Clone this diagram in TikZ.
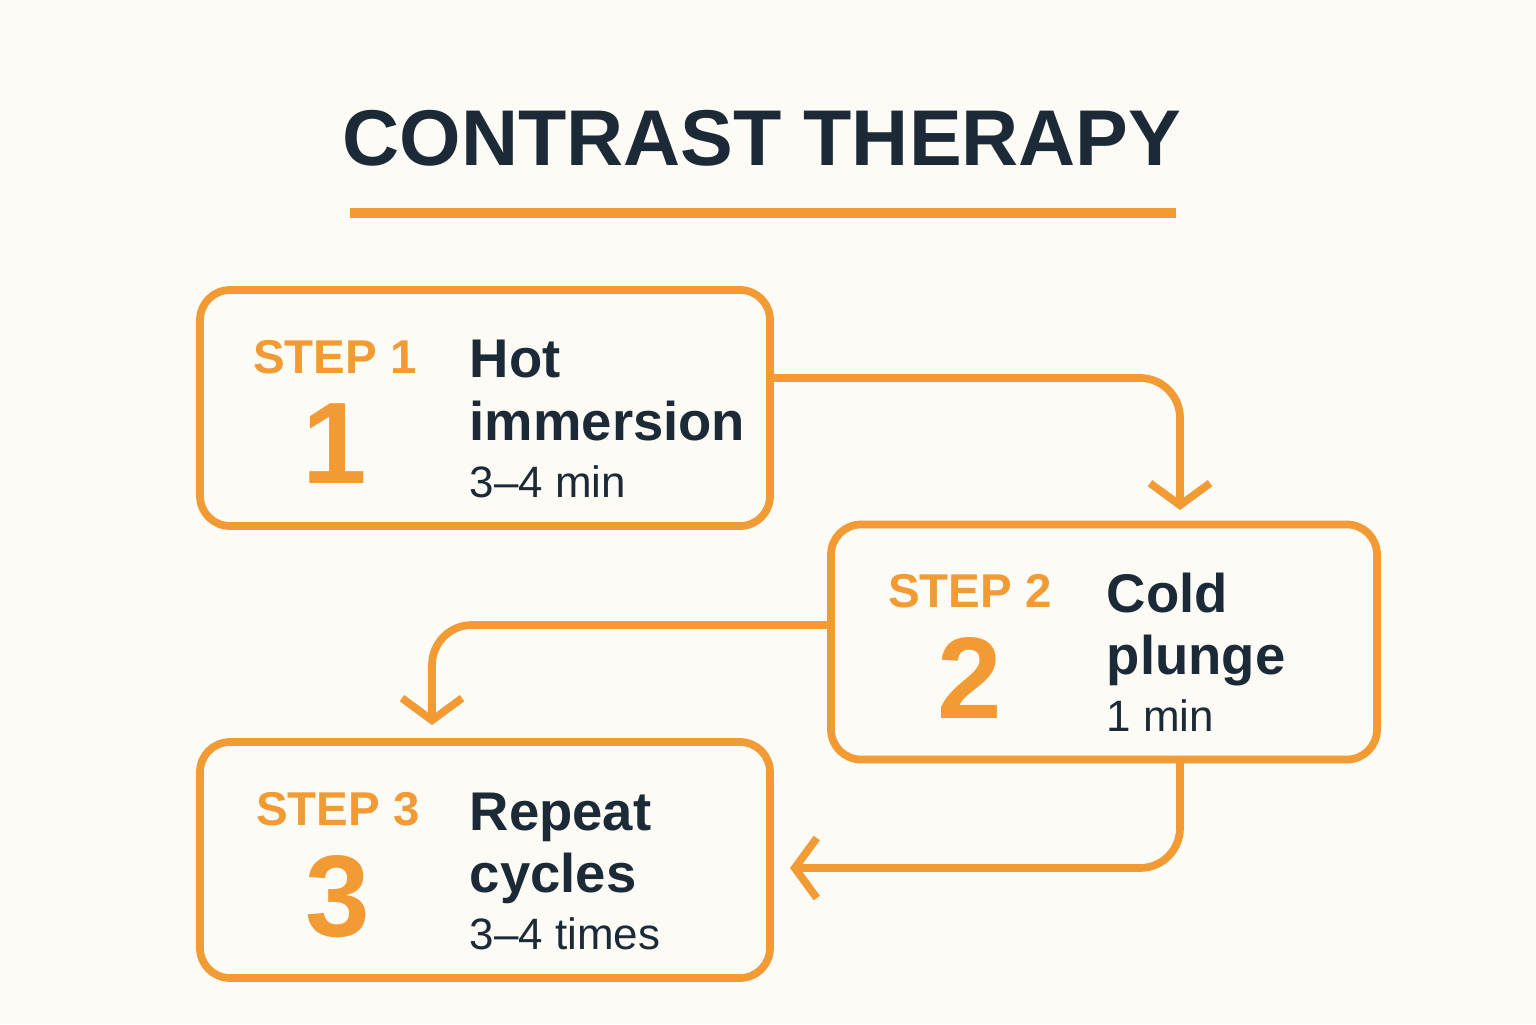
\documentclass[tikz,border=0pt]{standalone}
\usepackage{fontspec}
\setmainfont{Liberation Sans}
\usetikzlibrary{positioning, arrows.meta}
\definecolor{accent}{HTML}{F29A33}
\definecolor{ink}{HTML}{1B2A36}
\definecolor{paper}{HTML}{FCFBF6}

\tikzset{
  stepbox/.style={draw=accent, line width=2.2pt, rounded corners=0.3cm, minimum width=5.7cm, minimum height=2.36cm},
  steptag/.style={text=accent, font=\bfseries\fontsize{13.5}{13.5}\selectfont},
  stepnum/.style={text=accent, font=\bfseries\fontsize{33}{33}\selectfont},
  headline/.style={text=ink, font=\bfseries\fontsize{15.5}{15.5}\selectfont, anchor=base west, inner sep=0pt},
  detail/.style={text=ink, font=\fontsize{12.5}{12.5}\selectfont, anchor=base west, inner sep=0pt},
  flow/.style={draw=accent, line width=2.2pt, rounded corners=0.4cm, -{Straight Barb[length=0.22cm, width=0.6cm, line width=2.2pt]}}
}

\begin{document}
\begin{tikzpicture}[x=1cm, y=1cm]
\fill[paper] (0,0) rectangle (15.36,10.24);
\useasboundingbox (0,0) rectangle (15.36,10.24);

% Title
\node (title) [text=ink, font=\bfseries\fontsize{22.5}{22.5}\selectfont] at (7.62,8.86) {CONTRAST THERAPY};
\draw[accent, line width=2.6pt] (3.5,8.11) -- (11.76,8.11);

% Boxes
\node (box1) [stepbox] at (4.85,6.16) {};
\node (box2) [stepbox, minimum width=5.46cm, minimum height=2.35cm] at (11.04,3.82) {};
\node (box3) [stepbox] at (4.85,1.64) {};

% Step 1
\node (tag1) [steptag] at (3.35,6.67) {STEP 1};
\node (num1) [stepnum, below=0.05cm of tag1] {1};
\node (head1a) [headline] at (4.69,6.46) {Hot};
\node (head1b) [headline] at (4.69,5.84) {immersion};
\node (det1) [detail] at (4.69,5.27) {3–4 min};

% Step 2
\node (tag2) [steptag] at (9.70,4.33) {STEP 2};
\node (num2) [stepnum, below=0.05cm of tag2] {2};
\node (head2a) [headline] at (11.06,4.12) {Cold};
\node (head2b) [headline] at (11.06,3.50) {plunge};
\node (det2) [detail] at (11.06,2.93) {1 min};

% Step 3
\node (tag3) [steptag] at (3.38,2.15) {STEP 3};
\node (num3) [stepnum, below=0.05cm of tag3] {3};
\node (head3a) [headline] at (4.69,1.94) {Repeat};
\node (head3b) [headline] at (4.69,1.32) {cycles};
\node (det3) [detail] at (4.69,0.75) {3–4 times};

% Connectors
\coordinate (out1) at (box1.east |- 0,6.46);
\coordinate (in2) at (11.80,5.14);
\draw[flow] (out1) -| (in2);
\coordinate (out2) at (box2.west |- 0,3.99);
\coordinate (in3) at (4.32,2.99);
\draw[flow] (out2) -| (in3);
\coordinate (out3) at (11.80,2.64);
\coordinate (in4) at (7.90,1.56);
\draw[flow] (out3) |- (in4);
\end{tikzpicture}
\end{document}
